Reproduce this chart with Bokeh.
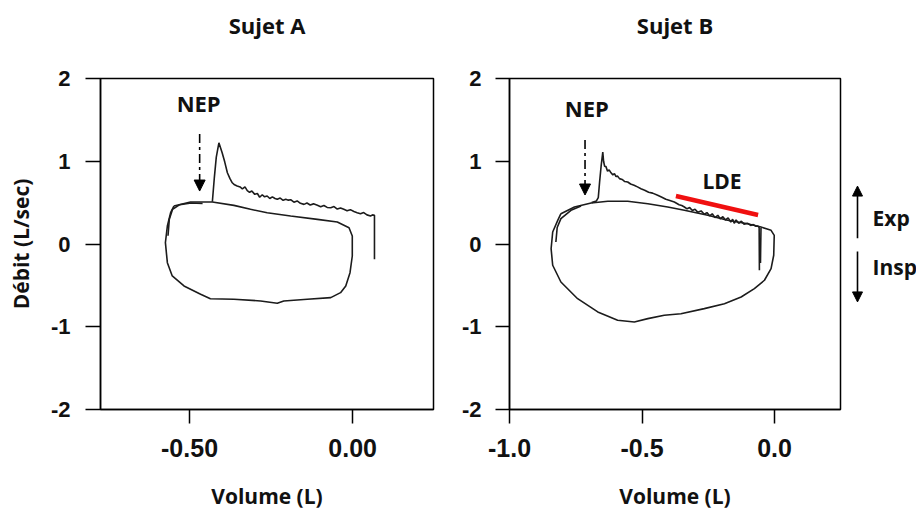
import math
from bokeh.plotting import figure
from bokeh.layouts import row
from bokeh.models import (Range1d, FixedTicker, NumeralTickFormatter, Label, Arrow,
                          NormalHead, LinearAxis)
from bokeh.embed import file_html
from bokeh.resources import INLINE

# ---------------- data ----------------
titles = ["Sujet A", "Sujet B"]
x_label = "Volume (L)"
y_label = "Débit (L/sec)"
y_ticks = [-2, -1, 0, 1, 2]
xticks_A = [-0.5, 0.0]
xticks_B = [-1.0, -0.5, 0.0]

# Subject A: tidal flow-volume loop
loopA_x = [-0.548, -0.497, -0.430, -0.364, -0.313, -0.262, -0.190, -0.108, -0.047, -0.011,
           -0.001, -0.001, -0.008, -0.021, -0.037, -0.067, -0.139, -0.211, -0.231, -0.282,
           -0.364, -0.436, -0.466, -0.517, -0.553, -0.568, -0.574, -0.568, -0.558, -0.548]
loopA_y = [0.459, 0.507, 0.507, 0.467, 0.419, 0.378, 0.338, 0.298, 0.266, 0.197,
           0.097, -0.145, -0.347, -0.507, -0.588, -0.648, -0.668, -0.688, -0.716, -0.688,
           -0.668, -0.661, -0.607, -0.507, -0.386, -0.226, 0.016, 0.217, 0.378, 0.459]
loopA2_x = [-0.566, -0.562, -0.552, -0.530, -0.495, -0.460]
loopA2_y = [0.10, 0.30, 0.42, 0.475, 0.495, 0.49]
# Subject A: NEP breath
nepA_x = [-0.430, -0.424, -0.418, -0.410, -0.400, -0.392, -0.384, -0.376, -0.369, -0.362,
          -0.354, -0.345, -0.338, -0.330, -0.323, -0.316, -0.309, -0.300, -0.292, -0.285,
          -0.277, -0.270, -0.262, -0.254, -0.246, -0.238, -0.231, -0.222, -0.213, -0.205,
          -0.197, -0.190, -0.180, -0.170, -0.160, -0.149, -0.140, -0.130, -0.120, -0.108,
          -0.098, -0.088, -0.078, -0.067, -0.057, -0.047, -0.037, -0.027, -0.017, -0.007,
          0.004, 0.014, 0.024, 0.034, 0.044, 0.055, 0.061, 0.067, 0.067]
nepA_y = [0.510, 0.800, 1.050, 1.223, 1.103, 0.990, 0.861, 0.790, 0.740, 0.715,
          0.700, 0.690, 0.665, 0.690, 0.645, 0.625, 0.640, 0.600, 0.610, 0.565,
          0.595, 0.570, 0.580, 0.550, 0.570, 0.550, 0.540, 0.555, 0.528, 0.540,
          0.530, 0.535, 0.505, 0.520, 0.492, 0.479, 0.495, 0.472, 0.485, 0.467,
          0.450, 0.465, 0.442, 0.438, 0.452, 0.422, 0.435, 0.419, 0.402, 0.415,
          0.392, 0.378, 0.365, 0.380, 0.352, 0.338, 0.352, 0.347, -0.185]

# Subject B: tidal flow-volume loop
loopB_x = [-0.806, -0.755, -0.692, -0.629, -0.554, -0.478, -0.403, -0.340, -0.252, -0.177,
           -0.102, -0.051, -0.013, -0.001, -0.003, -0.013, -0.038, -0.076, -0.126, -0.189,
           -0.265, -0.353, -0.416, -0.478, -0.529, -0.592, -0.667, -0.743, -0.806, -0.837,
           -0.843, -0.837, -0.818, -0.806]
loopB_y = [0.366, 0.447, 0.495, 0.516, 0.516, 0.487, 0.447, 0.408, 0.347, 0.286,
           0.245, 0.205, 0.165, 0.105, -0.136, -0.298, -0.438, -0.539, -0.640, -0.721,
           -0.781, -0.842, -0.861, -0.902, -0.942, -0.922, -0.821, -0.661, -0.459, -0.257,
           -0.057, 0.145, 0.286, 0.366]
loopB2_x = [-0.825, -0.820, -0.806, -0.768, -0.730]
loopB2_y = [0.024, 0.200, 0.306, 0.407, 0.460]
# Subject B: NEP breath
nepB_x = [-0.690, -0.672, -0.665, -0.660, -0.654, -0.648, -0.645, -0.641, -0.636, -0.630,
          -0.624, -0.617, -0.610, -0.604, -0.598, -0.592, -0.585, -0.575, -0.565, -0.554,
          -0.543, -0.530, -0.517, -0.504, -0.490, -0.475, -0.460, -0.441, -0.425, -0.410,
          -0.395, -0.378, -0.360, -0.350, -0.340, -0.330, -0.320, -0.310, -0.300, -0.290,
          -0.277, -0.265, -0.255, -0.245, -0.235, -0.225, -0.214, -0.205, -0.195, -0.185,
          -0.175, -0.165, -0.158, -0.152, -0.145, -0.135, -0.125, -0.115, -0.101, -0.090,
          -0.080, -0.070, -0.063, -0.058, -0.057]
nepB_y = [0.500, 0.520, 0.560, 0.750, 0.950, 1.111, 1.000, 0.940, 0.935, 0.880,
          0.895, 0.860, 0.835, 0.850, 0.815, 0.820, 0.790, 0.780, 0.755, 0.749,
          0.725, 0.710, 0.690, 0.668, 0.650, 0.625, 0.615, 0.588, 0.565, 0.540,
          0.525, 0.507, 0.475, 0.465, 0.447, 0.425, 0.440, 0.405, 0.420, 0.385,
          0.400, 0.360, 0.380, 0.340, 0.365, 0.320, 0.347, 0.305, 0.330, 0.290,
          0.315, 0.265, 0.300, 0.250, 0.290, 0.250, 0.275, 0.240, 0.250, 0.225,
          0.235, 0.215, 0.217, 0.200, -0.318]
nepB2_x = [-0.051, -0.052, -0.053]
nepB2_y = [0.195, 0.000, -0.230]
# LDE (expiratory flow limitation) segment
lde_x = [-0.372, -0.062]
lde_y = [0.580, 0.350]

LINE = "#1c1c1c"
TICK_FONT = "Liberation Sans"
LAB_FONT = "Open Sans"
MB_TOP = 78
MB_BOTTOM = 103


def base_fig(xr, width, mb_left, mb_right, xticks, xfmt, ytick_out, ystand, title):
    p = figure(width=width, height=512, output_backend="svg", toolbar_location=None,
               x_range=Range1d(*xr), y_range=Range1d(-2, 2),
               min_border_left=mb_left, min_border_right=mb_right,
               min_border_top=MB_TOP, min_border_bottom=MB_BOTTOM)
    p.grid.visible = False
    p.outline_line_color = "black"
    p.outline_line_width = 1.5
    p.background_fill_color = "white"
    p.border_fill_color = "white"
    for ax in (p.xaxis[0], p.yaxis[0]):
        ax.axis_line_color = "black"
        ax.axis_line_width = 1.5
        ax.major_tick_line_color = "black"
        ax.major_tick_line_width = 1.5
        ax.minor_tick_line_color = None
        ax.major_tick_in = 0
        ax.major_label_text_font = TICK_FONT
        ax.major_label_text_font_style = "bold"
        ax.major_label_text_color = "#111111"
        ax.axis_label_text_font = LAB_FONT
        ax.axis_label_text_font_style = "bold"
        ax.axis_label_text_font_size = "21px"
        ax.axis_label_text_color = "#111111"
    p.xaxis.ticker = FixedTicker(ticks=xticks)
    p.xaxis.formatter = NumeralTickFormatter(format=xfmt)
    p.xaxis.major_tick_out = 14
    p.xaxis.major_label_standoff = 15
    p.xaxis.major_label_text_font_size = "25px"
    p.xaxis.axis_label = x_label
    p.xaxis.axis_label_standoff = 22
    p.yaxis.ticker = FixedTicker(ticks=y_ticks)
    p.yaxis.formatter = NumeralTickFormatter(format="0")
    p.yaxis.major_tick_out = ytick_out
    p.yaxis.major_label_standoff = ystand
    p.yaxis.major_label_text_font_size = "22px"
    # title drawn as the label of an empty axis above the frame
    top = LinearAxis(ticker=FixedTicker(ticks=[]), axis_line_color=None,
                     major_tick_out=0, major_tick_in=0, minor_tick_out=0,
                     minor_tick_in=0, major_label_standoff=0,
                     axis_label=title, axis_label_standoff=39,
                     axis_label_text_font=LAB_FONT, axis_label_text_font_style="bold",
                     axis_label_text_font_size="22px", axis_label_text_color="#111111")
    p.add_layout(top, "above")
    return p


def lab(p, x, y, text, size, align="center"):
    p.add_layout(Label(x=x, y=y, text=text, text_font=LAB_FONT, text_font_style="bold",
                       text_font_size=size, text_align=align, text_baseline="middle",
                       text_color="#111111"))


def nep_arrow(p, x, y0, y1):
    p.add_layout(Arrow(x_start=x, y_start=y0, x_end=x, y_end=y1,
                       line_color="black", line_width=1.6, line_dash="9 4 3 4",
                       end=NormalHead(size=11, fill_color="black", line_color="black",
                                      line_dash="solid")))


# ---------------- Subject A ----------------
pA = base_fig((-0.773, 0.248), 458, 100, 25, xticks_A, "0.00", 15, 15, titles[0])
pA.yaxis.axis_label = y_label
pA.yaxis.axis_label_standoff = 13
pA.line(loopA_x, loopA_y, line_color=LINE, line_width=1.6)
pA.line(loopA2_x, loopA2_y, line_color=LINE, line_width=1.6)
pA.line(nepA_x, nepA_y, line_color=LINE, line_width=1.6)
nep_arrow(pA, -0.469, 1.329, 0.640)
lab(pA, -0.472, 1.700, "NEP", "22px")

# ---------------- Subject B ----------------
pB = base_fig((-1.0, 0.249), 384, 51, 2, xticks_B, "0.0", 14, 14, titles[1])
pB.line(loopB_x, loopB_y, line_color=LINE, line_width=1.6)
pB.line(loopB2_x, loopB2_y, line_color=LINE, line_width=1.6)
pB.line(nepB_x, nepB_y, line_color=LINE, line_width=1.6)
pB.line(nepB2_x, nepB2_y, line_color=LINE, line_width=1.6)
pB.line(lde_x, lde_y, line_color="#f01010", line_width=4.5)
nep_arrow(pB, -0.715, 1.256, 0.592)
lab(pB, -0.708, 1.640, "NEP", "22px")
lab(pB, -0.198, 0.760, "LDE", "21px")

# ---------------- Exp / Insp side panel ----------------
pC = figure(width=74, height=512, output_backend="svg", toolbar_location=None,
            x_range=Range1d(0, 74), y_range=Range1d(-2, 2),
            min_border_left=0, min_border_right=0,
            min_border_top=MB_TOP, min_border_bottom=MB_BOTTOM)
pC.axis.visible = False
pC.grid.visible = False
pC.outline_line_color = None
lab(pC, 30, 0.32, "Exp", "21px", align="left")
lab(pC, 30, -0.28, "Insp", "21px", align="left")
pC.add_layout(Arrow(x_start=15, y_start=0.07, x_end=15, y_end=0.70,
                    line_color="black", line_width=1.6,
                    end=NormalHead(size=10, fill_color="black", line_color="black")))
pC.add_layout(Arrow(x_start=15, y_start=-0.09, x_end=15, y_end=-0.70,
                    line_color="black", line_width=1.6,
                    end=NormalHead(size=10, fill_color="black", line_color="black")))

layout = row(pA, pB, pC)
open("out.html", "w").write(file_html(layout, INLINE))
